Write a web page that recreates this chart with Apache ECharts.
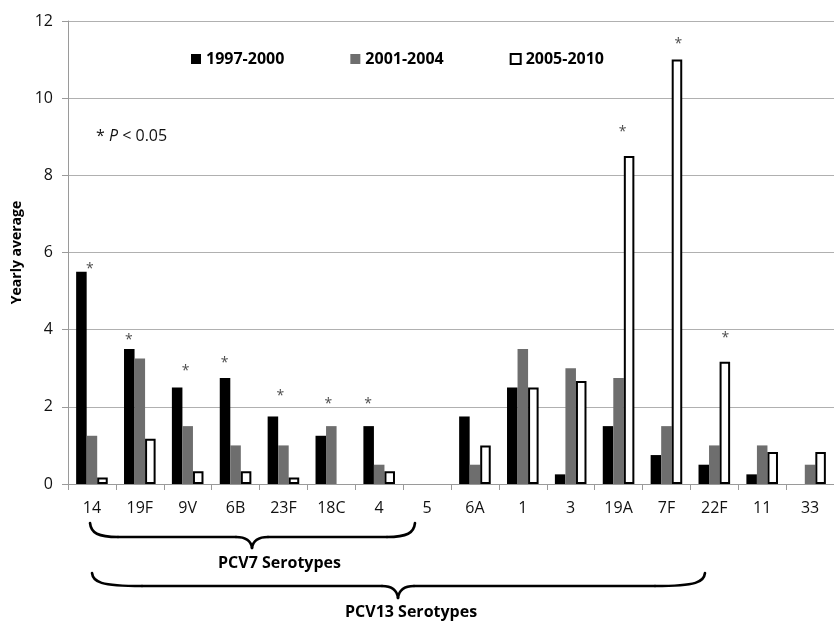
<!DOCTYPE html>
<html>
<head>
<meta charset="utf-8">
<script src="https://cdn.jsdelivr.net/npm/echarts@6/dist/echarts.min.js"></script>
<style>
html,body{margin:0;padding:0;background:#fff;}
#chart{width:834px;height:623px;}
</style>
</head>
<body>
<div id="chart"></div>
<script>
// ---- data ----
const categories = ['14','19F','9V','6B','23F','18C','4','5','6A','1','3','19A','7F','22F','11','33'];
const series1997 = [5.5, 3.5, 2.5, 2.75, 1.75, 1.25, 1.5, 0, 1.75, 2.5, 0.25, 1.5, 0.75, 0.5, 0.25, 0];
const series2001 = [1.25, 3.25, 1.5, 1.0, 1.0, 1.5, 0.5, 0, 0.5, 3.5, 3.0, 2.75, 1.5, 1.0, 1.0, 0.5];
const series2005 = [0.17, 1.17, 0.33, 0.33, 0.17, 0, 0.33, 0, 1.0, 2.5, 2.67, 8.5, 11.0, 3.17, 0.83, 0.83];
const seriesNames = ['1997-2000', '2001-2004', '2005-2010'];
const sigCategories = ['14','19F','9V','6B','23F','18C','4','19A','7F','22F'];
const sigHeights = [5.66, 3.8, 3.0, 3.21, 2.35, 2.15, 2.15, 9.21, 11.48, 3.85];
const yMin = 0, yMax = 12, yStep = 2;

// ---- styles ----
const FONT = '"Open Sans", "Liberation Sans", sans-serif';
const sigOffsetX = [-2, -11, -2, -11, -3, -3, -11, 4, 12, 11];

const chart = echarts.init(document.getElementById('chart'), null, {renderer: 'canvas'});

const sigData = sigCategories.map((c, i) => ({
  value: [c, sigHeights[i]],
  label: {offset: [sigOffsetX[i], 3]}
}));

// brace decoration: list of segments, each either line [x1,y1,x2,y2] or cubic [x1,y1,c1x,c1y,c2x,c2y,x2,y2]
function braceElements(x0, x1, tipX, yTop, yMid, yTip, curl) {
  const segs = [
    [x0, yTop, x0 + 1, yMid - 4, x0 + 8, yMid, x0 + curl, yMid],
    [x0 + curl, yMid, tipX - 16, yMid],
    [tipX - 16, yMid, tipX - 6, yMid, tipX - 1, yMid + 4, tipX, yTip],
    [tipX, yTip, tipX + 1, yMid + 4, tipX + 6, yMid, tipX + 16, yMid],
    [tipX + 16, yMid, x1 - curl, yMid],
    [x1 - curl, yMid, x1 - 8, yMid, x1 - 1, yMid - 4, x1, yTop]
  ];
  const style = {stroke: '#000', lineWidth: 2.6, lineCap: 'round', fill: 'none'};
  return segs.map(s => s.length === 4
    ? {type: 'line', shape: {x1: s[0], y1: s[1], x2: s[2], y2: s[3]}, style}
    : {type: 'bezierCurve', shape: {x1: s[0], y1: s[1], cpx1: s[2], cpy1: s[3], cpx2: s[4], cpy2: s[5], x2: s[6], y2: s[7]}, style});
}

const option = {
  backgroundColor: '#ffffff',
  animation: false,
  textStyle: {fontFamily: FONT},
  grid: {left: 68, top: 21, width: 774, height: 463, containLabel: false},
  legend: {
    left: 186, top: 46,
    itemWidth: 10, itemHeight: 10, itemGap: 66,
    icon: 'rect',
    textStyle: {fontFamily: FONT, fontSize: 16, fontWeight: 'bold', color: '#000'},
    data: seriesNames
  },
  xAxis: {
    type: 'category',
    data: categories,
    axisLine: {lineStyle: {color: '#9a9a9a', width: 1}},
    axisTick: {show: true, length: 6, lineStyle: {color: '#9a9a9a'}},
    axisLabel: {fontFamily: FONT, fontSize: 16, color: '#111', margin: 16}
  },
  yAxis: {
    type: 'value',
    min: yMin, max: yMax, interval: yStep,
    name: 'Yearly average',
    nameLocation: 'middle',
    nameGap: 44,
    nameRotate: 90,
    nameTextStyle: {fontFamily: FONT, fontSize: 14, fontWeight: 'bold', color: '#000'},
    axisLine: {show: true, lineStyle: {color: '#9a9a9a', width: 1}},
    axisTick: {show: true, length: 6, lineStyle: {color: '#9a9a9a'}},
    axisLabel: {fontFamily: FONT, fontSize: 16, color: '#111', margin: 15},
    splitLine: {lineStyle: {color: '#b0b0b0', width: 1}}
  },
  series: [
    {
      name: seriesNames[0], type: 'bar', data: series1997,
      barGap: '0%', barCategoryGap: '34%',
      itemStyle: {color: '#000000'}
    },
    {
      name: seriesNames[1], type: 'bar', data: series2001,
      itemStyle: {color: '#6e6e6e'}
    },
    {
      name: seriesNames[2], type: 'bar',
      data: series2005.map(v => v === 0 ? '-' : v),
      itemStyle: {color: '#ffffff', borderColor: '#000000', borderWidth: 2}
    },
    {
      name: 'sig', type: 'scatter', data: sigData,
      symbolSize: 0, silent: true,
      label: {show: true, position: 'inside', formatter: '*', fontFamily: FONT, fontSize: 14, color: '#1a1a1a'}
    }
  ],
  graphic: [
    {
      type: 'text', left: 96, top: 128,
      style: {
        rich: {
          n: {fontFamily: FONT, fontSize: 16, fill: '#111'},
          i: {fontFamily: FONT, fontSize: 16, fontStyle: 'italic', fill: '#111'}
        },
        text: '{n|* }{i|P}{n| < 0.05}'
      }
    },
    ...braceElements(90, 415, 252, 523, 537, 548, 28),
    {
      type: 'text', left: 218, top: 555,
      style: {text: 'PCV7 Serotypes', fontFamily: FONT, fontSize: 16, fontWeight: 'bold', fill: '#000'}
    },
    ...braceElements(92, 705, 398, 573, 586, 598, 50),
    {
      type: 'text', left: 345, top: 604,
      style: {text: 'PCV13 Serotypes', fontFamily: FONT, fontSize: 16, fontWeight: 'bold', fill: '#000'}
    }
  ]
};
chart.setOption(option);
</script>
</body>
</html>
